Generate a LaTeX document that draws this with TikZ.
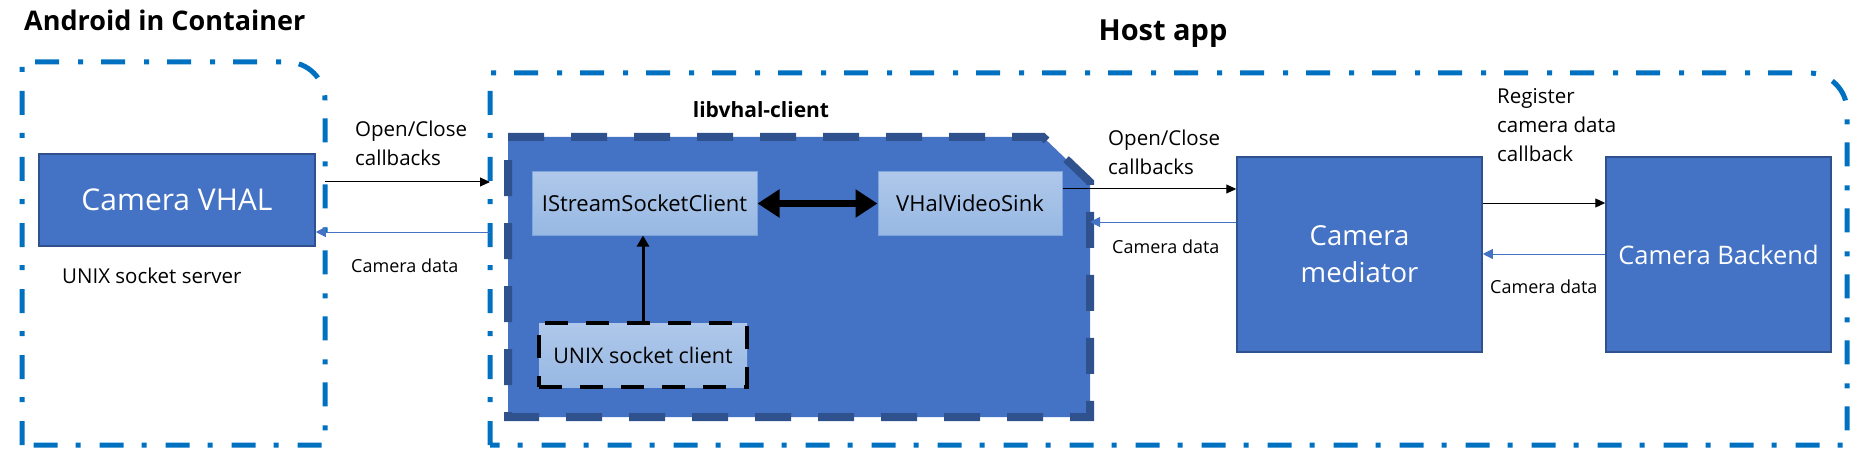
\documentclass[tikz,border=0pt]{standalone}
\usepackage{fontspec}
\setmainfont{Open Sans}
\usetikzlibrary{arrows.meta}
\definecolor{boxblue}{HTML}{4472C4}
\definecolor{edgeblue}{HTML}{2F528F}
\definecolor{lineblue}{HTML}{0070C0}
\definecolor{subtop}{HTML}{AFC8EA}
\definecolor{subbot}{HTML}{97B8E3}
\definecolor{subedge}{HTML}{7EA4DC}
\newcommand{\fsz}[2]{\fontsize{#1}{#2}\selectfont}
\begin{document}
\begin{tikzpicture}[x=1pt,y=-1pt,
    frame/.style={draw=lineblue,line width=5pt,dash pattern=on 24pt off 19pt on 5pt off 18pt},
    camblock/.style={draw=edgeblue,fill=boxblue,line width=1.5pt,text=white,align=center,inner sep=0pt},
    subblock/.style={draw=subedge,top color=subtop,bottom color=subbot,line width=1pt,inner sep=0pt,font=\fsz{22}{26}},
    lbl/.style={inner sep=0pt,align=left,font=\fsz{20.5}{29}},
    small/.style={inner sep=0pt,font=\fsz{18}{20}},
    call/.style={-{Triangle[length=10pt,width=9pt]},line width=1pt},
    back/.style={-{Triangle[length=10pt,width=10pt]},draw=boxblue,line width=1pt}]
    \useasboundingbox(0,0)rectangle(1867,473);
    % containers
    \draw[frame](22,445)--(22,62)--(287,62)..controls(308,62)and(325,79)..(325,100)--(325,445)--cycle;
    \draw[frame](490,445)--(490,73)--(1809,73)..controls(1830,73)and(1847,90)..(1847,111)--(1847,445)--cycle;
    \draw[draw=edgeblue,fill=boxblue,line width=8pt,dash pattern=on 36pt off 27pt](508,137)--(1043,137)--(1090,182)--(1090,417)--(508,417)--cycle;
    \node[font=\bfseries\fsz{27}{32},anchor=base west,inner sep=0pt](andr)at(24,31){Android in Container};
    \node[font=\bfseries\fsz{29}{34},anchor=base,inner sep=0pt](host)at(1163,41){Host app};
    \node[font=\bfseries\fsz{21}{24},anchor=base,inner sep=0pt](lib)at(761,118){libvhal-client};
    % blocks
    \node[camblock,minimum width=276pt,minimum height=92pt,font=\fsz{30}{36}](vhal)at(177,200){Camera VHAL};
    \node[camblock,minimum width=245pt,minimum height=195pt,font=\fsz{27.5}{37}](med)at(1359.5,254.5){Camera\\mediator};
    \node[camblock,minimum width=225pt,minimum height=195pt,font=\fsz{25.5}{32}](back)at(1718.5,254.5){Camera Backend};
    \node[subblock,minimum width=225pt,minimum height=63pt](iss)at(644.5,203.5){IStreamSocketClient};
    \node[subblock,minimum width=184pt,minimum height=63pt](sink)at(970,203.5){VHalVideoSink};
    \node[subblock,draw=black,line width=4.5pt,dash pattern=on 23pt off 18pt,minimum width=208pt,minimum height=64pt,font=\fsz{21.5}{26}](usc)at(643,355){UNIX socket client};
    \node[lbl,anchor=base west](srv)at(62,283){UNIX socket server};
    % arrows
    \draw[{Triangle[length=22pt,width=27pt]}-{Triangle[length=22pt,width=27pt]},line width=7.5pt](iss)--(sink);
    \draw[-{Triangle[length=11pt,width=12pt]},line width=3pt](usc.north)--(usc.north|-iss.south);
    \coordinate(a1)at(325,182);
    \coordinate(h1)at(490,182);
    \coordinate(h2)at(490,232);
    \coordinate(l1)at(1090,222);
    \draw[call](a1)--(h1);
    \draw[back](h2)--(h2-|vhal.east);
    \draw[call](sink.east|-0,189)--(med.west|-0,189);
    \draw[back](med.west|-l1)--(l1);
    \draw[call](med.east|-0,203)--(back.west|-0,203);
    \draw[back](back.west|-0,254)--(med.east|-0,254);
    % labels
    \node[lbl,anchor=west](oc1)at(355,143){Open/Close\\callbacks};
    \node[lbl,anchor=west](oc2)at(1108,152){Open/Close\\callbacks};
    \node[lbl,anchor=west](reg)at(1497,125){Register\\camera data\\callback};
    \foreach \n/\x/\y in{cd1/351/272,cd2/1112/253,cd3/1490/293}
        \node[small,anchor=base west](\n)at(\x,\y){Camera data};
\end{tikzpicture}
\end{document}
